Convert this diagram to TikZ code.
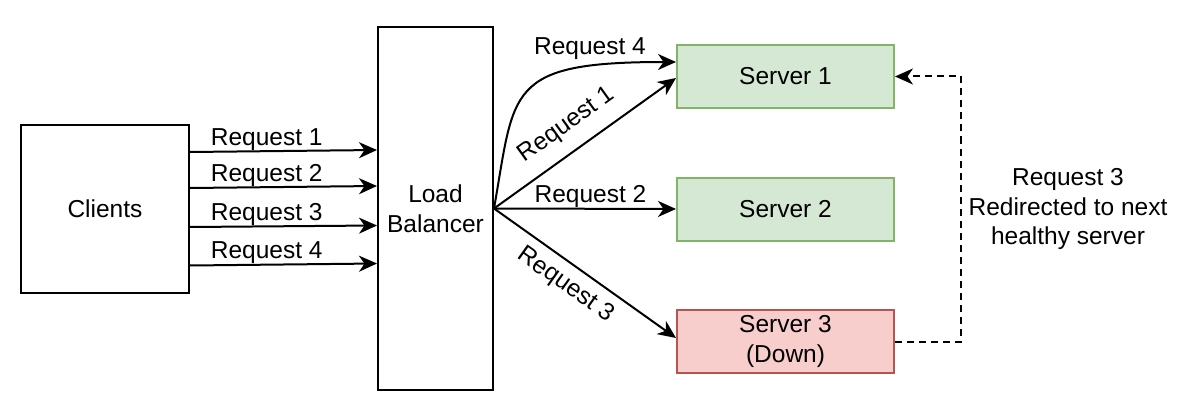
\documentclass[tikz,border=0pt]{standalone}
\usepackage{fontspec}
\setmainfont{Liberation Sans}
\usetikzlibrary{arrows.meta}
\definecolor{okfill}{HTML}{D5E8D4}
\definecolor{okline}{HTML}{82B366}
\definecolor{downfill}{HTML}{F8CECC}
\definecolor{downline}{HTML}{B85450}
\begin{document}
\begin{tikzpicture}[x=1pt,y=-1pt,
  font=\fontsize{24.5}{29.5}\selectfont,
  box/.style={draw, line width=2pt, inner sep=0pt, align=center},
  okbox/.style={box, draw=okline, fill=okfill, minimum width=217pt, minimum height=63pt},
  downbox/.style={box, draw=downline, fill=downfill, minimum width=217pt, minimum height=63pt},
  tip/.style={-{Stealth[length=18pt,width=16pt,inset=5.5pt]}},
  link/.style={line width=2pt, tip},
  redirect/.style={line width=2pt, tip, dash pattern=on 7pt off 5pt},
  lbl/.style={inner sep=0pt}]
\useasboundingbox (0,0) rectangle (1188,401);

% boxes
\node[box, minimum width=168pt, minimum height=168pt] (clients) at (105,209) {Clients};
\node[box, minimum width=115pt, minimum height=363pt] (lb) at (435.5,208.5) {Load\\Balancer};
\node[okbox] (s1) at (785.5,76.5) {Server 1};
\node[okbox] (s2) at (785.5,209) {Server 2};
\node[downbox] (s3) at (785.5,341.5) {Server 3\\(Down)};

% clients to load balancer
\draw[link] ([yshift=57pt]clients.east) -- node[lbl, above, pos=0.41] (l1) {Request 1} ([yshift=58.5pt]lb.west);
\draw[link] ([yshift=21pt]clients.east) -- node[lbl, above, pos=0.41] (l2) {Request 2} ([yshift=22.5pt]lb.west);
\draw[link] ([yshift=-18pt]clients.east) -- node[lbl, above, pos=0.41] (l3) {Request 3} ([yshift=-17pt]lb.west);
\draw[link] ([yshift=-56.5pt]clients.east) -- node[lbl, above, pos=0.41] (l4) {Request 4} ([yshift=-55pt]lb.west);

% load balancer to servers
\draw[link] (lb.east) .. controls (515,90) and (505,62) .. ([yshift=14.5pt]s1.west);
\node[lbl, anchor=base] (r4) at (590,55) {Request 4};
\draw[link] (lb.east) -- node[lbl, sloped, above=13pt, pos=0.48] (r1) {Request 1} ([yshift=-1.5pt]s1.west);
\draw[link] (lb.east) -- node[lbl, above, pos=0.53] (r2) {Request 2} (s2.west);
\draw[link] (lb.east) -- node[lbl, sloped, below=9pt, pos=0.46] (r3) {Request 3} ([yshift=3.5pt]s3.west);

% failover path
\draw[redirect] (s3.east) -- ++(66,0) |- (s1.east);
\node[align=center, inner sep=0pt] (note) at (1068,209) {Request 3\\Redirected to next\\healthy server};
\end{tikzpicture}
\end{document}
